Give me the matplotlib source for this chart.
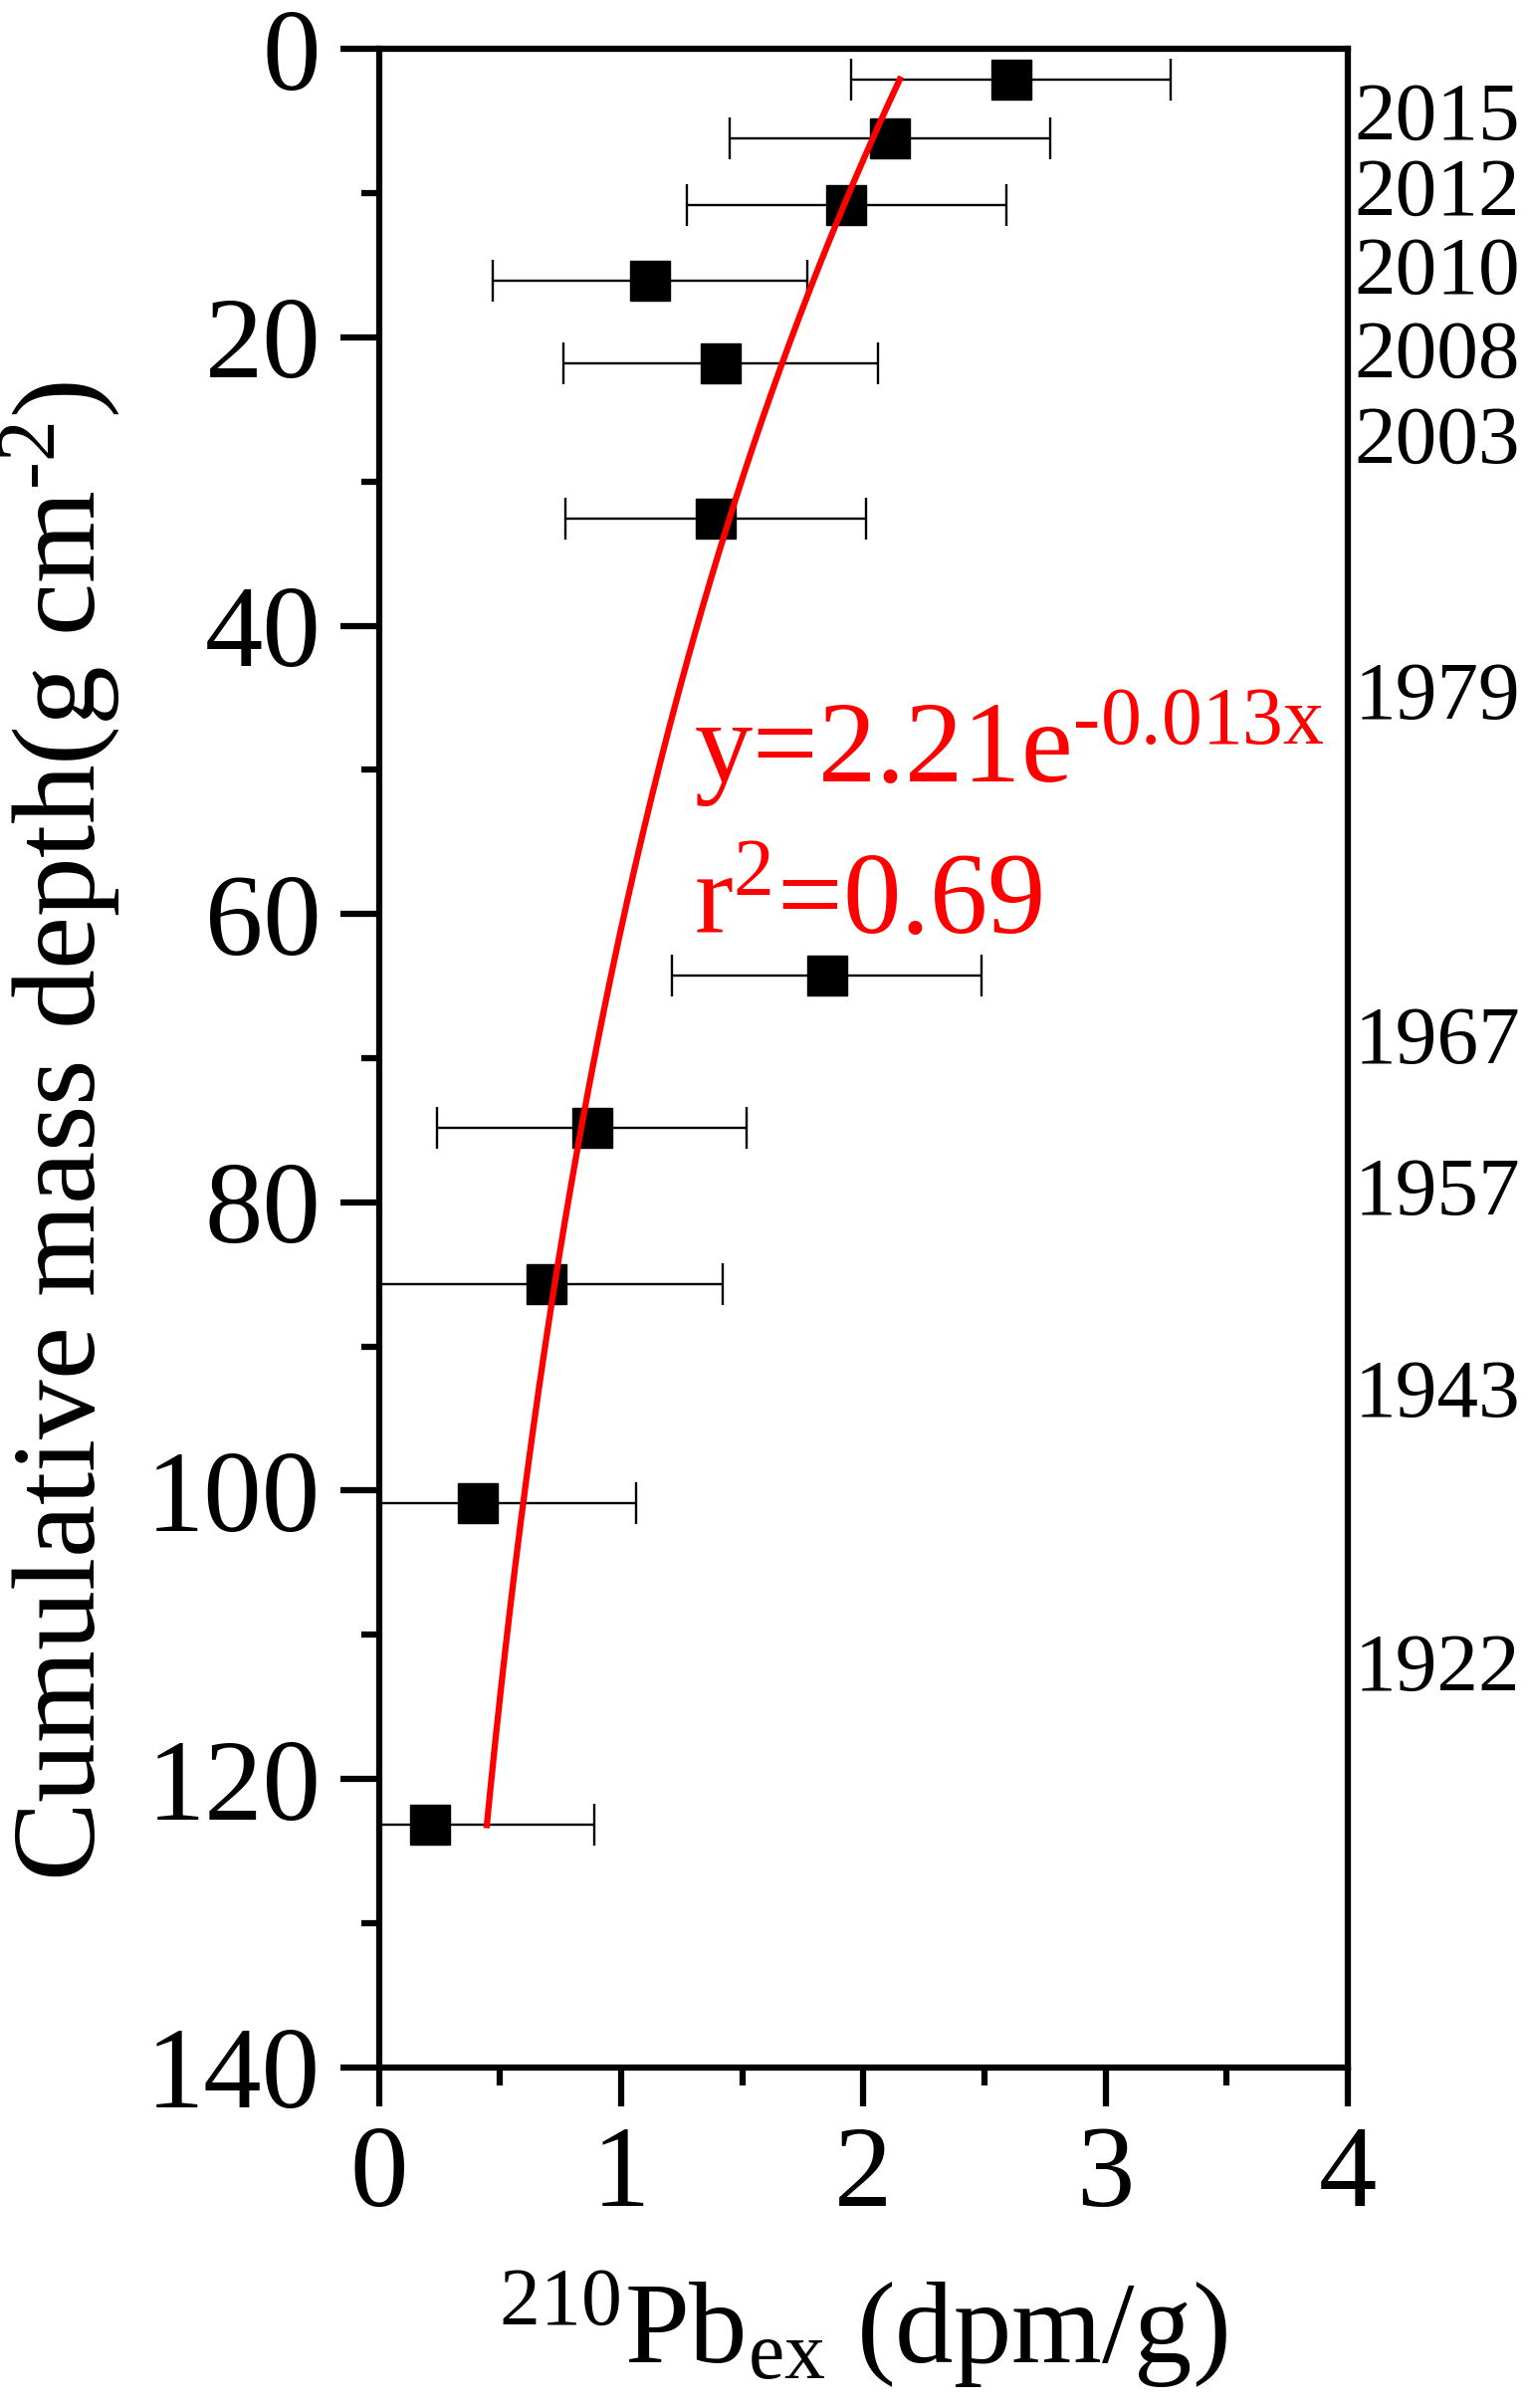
import numpy as np
import matplotlib
matplotlib.use('Agg')
import matplotlib.pyplot as plt
import matplotlib.transforms as mtransforms

plt.rcParams['font.family'] = ['Liberation Serif', 'DejaVu Serif']
plt.rcParams['mathtext.fontset'] = 'custom'
plt.rcParams['mathtext.rm'] = 'Liberation Serif'
plt.rcParams['mathtext.it'] = 'Liberation Serif'

# 210Pb_ex activity (dpm/g) vs cumulative mass depth (g cm-2)
depth = [2.1, 6.2, 10.8, 16.1, 21.8, 32.6, 64.3, 74.8, 85.7, 100.9, 123.2]
pb210 = [2.61, 2.11, 1.93, 1.12, 1.41, 1.39, 1.85, 0.88, 0.69, 0.41, 0.21]
pb_err = [0.66, 0.66, 0.66, 0.65, 0.65, 0.62, 0.64, 0.64, 0.73, 0.65, 0.68]

# exponential fit y = a*exp(-b*x) as printed on the chart
fit_a = 2.21
fit_b = 0.013
fit_range = [2.1, 123.2]

# year labels on the right side
years = ['2015', '2012', '2010', '2008', '2003', '1979', '1967', '1957', '1943', '1922']
year_depth = [4.9, 10.1, 15.6, 21.4, 27.3, 45.1, 69.0, 79.5, 93.5, 112.5]

HY = '\u2010'  # short hyphen as in the original

fig = plt.figure(figsize=(15.35, 24.19), dpi=100)
ax = fig.add_axes([0.248, 0.1415, 0.634, 0.8381])

ax.errorbar(pb210, depth, xerr=pb_err, fmt='s', color='k', ms=29,
            ecolor='k', elinewidth=1.7, capsize=15, capthick=1.7, zorder=3)

d = np.linspace(fit_range[0], fit_range[1], 200)
ax.plot(fit_a * np.exp(-fit_b * d), d, color='red', lw=4.5, zorder=4)

ax.text(1.30, 50.9, 'y=2.21e$^{' + HY + '0.013x}$', color='red', fontsize=84)
ax.text(1.30, 61.3, r'r$^2$=0.69', color='red', fontsize=84)

tr = mtransforms.blended_transform_factory(ax.transAxes, ax.transData)
for yr, yd in zip(years, year_depth):
    ax.text(1.007, yd, yr, transform=tr, fontsize=60, va='center', ha='left',
            clip_on=False)

ax.set_xlim(0, 4)
ax.set_ylim(140, 0)
ax.set_xticks([0, 1, 2, 3, 4])
ax.set_xticks([0.5, 1.5, 2.5, 3.5], minor=True)
ax.set_yticks([0, 20, 40, 60, 80, 100, 120, 140])
ax.set_yticks([10, 30, 50, 70, 90, 110, 130], minor=True)

for s in ax.spines.values():
    s.set_linewidth(4.5)
ax.tick_params(which='major', direction='out', length=28, width=4.5,
               labelsize=84, pad=14)
ax.tick_params(which='minor', direction='out', length=13, width=4.5)
ax.tick_params(top=False, right=False, which='both')

ax.set_xlabel(r'$^{210}$Pb$_{\rm ex}$ (dpm/g)', fontsize=84)
ax.xaxis.set_label_coords(0.5, -0.1)
ax.xaxis.label.set_va('top')
ax.set_ylabel('Cumulative mass depth(g cm$^{' + HY + '2}$)', fontsize=86)
ax.yaxis.set_label_coords(-0.265, 0.464)

fig.savefig('out.png', dpi=100)
